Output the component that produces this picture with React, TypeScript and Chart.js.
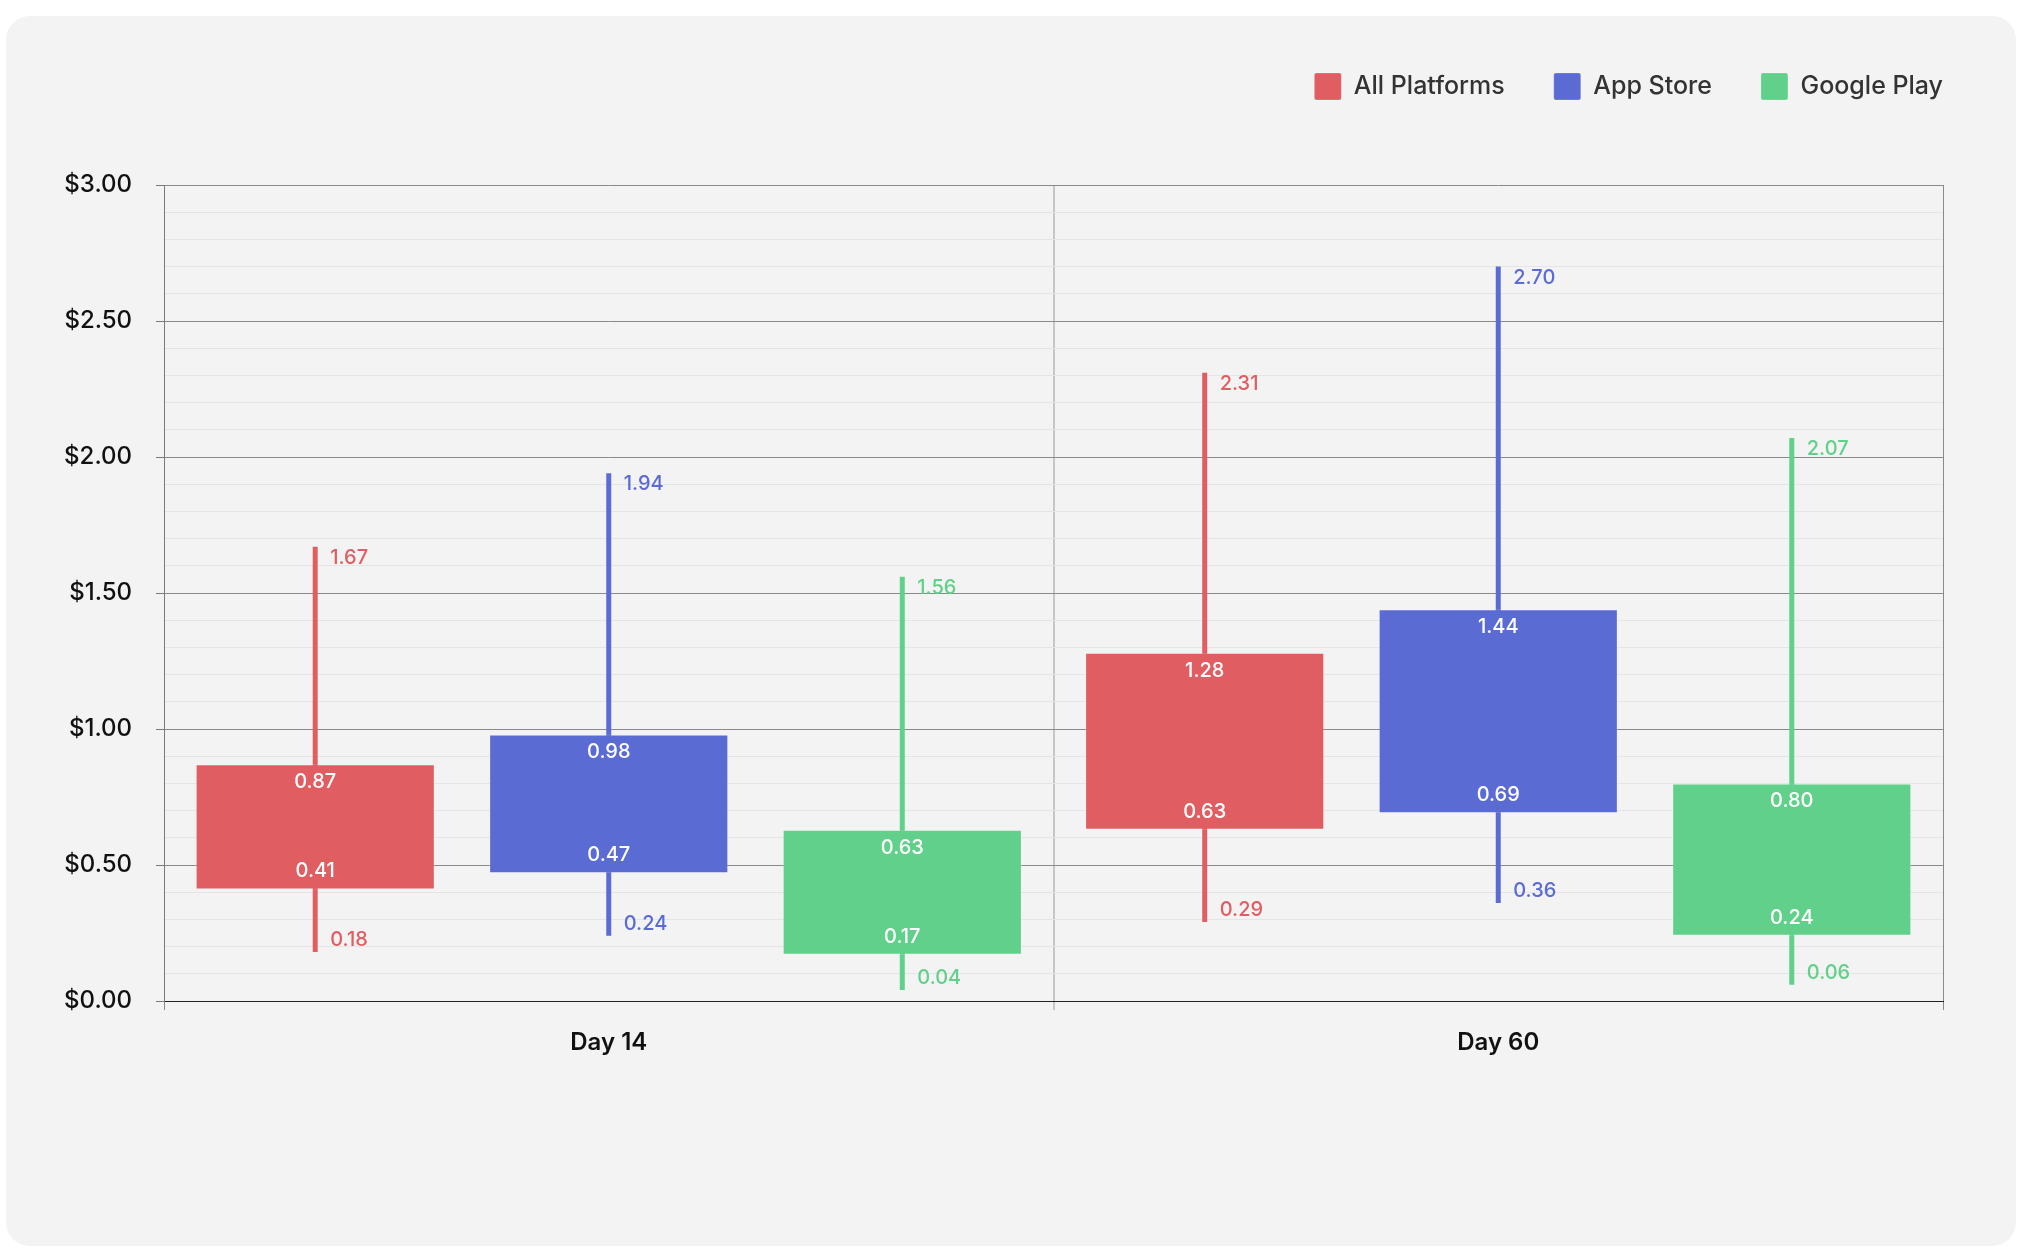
import { useEffect, useRef } from "react"
import { Chart, registerables } from "chart.js"

Chart.register(...registerables)

const categories = ["Day 14", "Day 60"]
const seriesNames = ["All Platforms", "App Store", "Google Play"]
const seriesColors = ["#E05E61", "#5B6BD4", "#61D08A"]

// box = [lower, upper], whisker = [min, max], one pair per category
const allPlatformsBox = [[0.41, 0.87], [0.63, 1.28]]
const allPlatformsWhisker = [[0.18, 1.67], [0.29, 2.31]]
const appStoreBox = [[0.47, 0.98], [0.69, 1.44]]
const appStoreWhisker = [[0.24, 1.94], [0.36, 2.7]]
const googlePlayBox = [[0.17, 0.63], [0.24, 0.8]]
const googlePlayWhisker = [[0.04, 1.56], [0.06, 2.07]]

const yTickLabels = ["$0.00", "$0.50", "$1.00", "$1.50", "$2.00", "$2.50", "$3.00"]

const boxes = [allPlatformsBox, appStoreBox, googlePlayBox]
const whiskers = [allPlatformsWhisker, appStoreWhisker, googlePlayWhisker]

const FONT = "Inter, 'Noto Sans', sans-serif"

const isMajor = (v: number) => Math.abs(v * 2 - Math.round(v * 2)) < 1e-6

// push the plot area down below the legend
const legendSpacer = {
  id: "legendSpacer",
  beforeInit(chart: any) {
    const fit = chart.legend.fit
    chart.legend.fit = function () {
      fit.call(this)
      this.height += 75
    }
  },
}

// value labels on boxes and whisker ends
const valueLabels = {
  id: "valueLabels",
  afterDatasetsDraw(chart: any) {
    const { ctx } = chart
    const y = chart.scales.y
    ctx.save()
    ctx.font = `500 20px ${FONT}`
    ctx.textBaseline = "middle"
    chart.data.datasets.forEach((ds: any, di: number) => {
      const meta = chart.getDatasetMeta(di)
      meta.data.forEach((el: any, i: number) => {
        const [lo, hi] = ds.data[i]
        const top = y.getPixelForValue(hi)
        const bottom = y.getPixelForValue(lo)
        if (ds.role === "box") {
          ctx.fillStyle = "#ffffff"
          ctx.textAlign = "center"
          ctx.fillText(hi.toFixed(2), el.x, top + 18)
          ctx.fillText(lo.toFixed(2), el.x, bottom - 18)
        } else {
          ctx.fillStyle = ds.backgroundColor
          ctx.textAlign = "left"
          ctx.fillText(hi.toFixed(2), el.x + 15, top + 11)
          ctx.fillText(lo.toFixed(2), el.x + 15, bottom - 12)
        }
      })
    })
    ctx.restore()
  },
}

export default function App() {
  const chartRef = useRef<HTMLCanvasElement>(null)
  const chartInstance = useRef<Chart | null>(null)

  useEffect(() => {
    if (!chartRef.current) return
    if (chartInstance.current) chartInstance.current.destroy()

    const boxSets = seriesNames.map((name, s) => ({
      label: name,
      role: "box",
      stack: "s" + s,
      data: boxes[s],
      backgroundColor: seriesColors[s],
      borderColor: "rgba(255,255,255,0.22)",
      borderWidth: 1,
      borderSkipped: false,
      categoryPercentage: 0.99,
      barPercentage: 0.815,
      order: 1,
    }))
    const whiskerSets = seriesNames.map((name, s) => ({
      label: name + " range",
      role: "whisker",
      stack: "s" + s,
      data: whiskers[s],
      backgroundColor: seriesColors[s],
      borderWidth: 0,
      categoryPercentage: 0.99,
      barPercentage: 0.815,
      maxBarThickness: 5,
      order: 2,
    }))

    Chart.defaults.font.family = FONT

    chartInstance.current = new Chart(chartRef.current, {
      type: "bar",
      data: {
        labels: categories,
        datasets: [...boxSets, ...whiskerSets] as any,
      },
      plugins: [legendSpacer, valueLabels],
      options: {
        responsive: true,
        maintainAspectRatio: false,
        animation: false,
        events: [],
        layout: { padding: { top: 8, left: 58, right: 24, bottom: 189 } },
        plugins: {
          tooltip: { enabled: false },
          legend: {
            position: "top",
            align: "end",
            labels: {
              boxWidth: 27,
              boxHeight: 27,
              padding: 49,
              color: "#333333",
              useBorderRadius: true,
              borderRadius: 2,
              font: { size: 25, weight: 500 },
              filter: (item: any) => item.datasetIndex < seriesNames.length,
            },
          },
        },
        scales: {
          x: {
            offset: true,
            grid: {
              offset: true,
              color: (c: any) => (c.index === 1 ? "#c6c6c6" : "#8a8a8a"),
              lineWidth: (c: any) => (c.index === 1 ? 2 : 1),
              tickLength: 9,
            },
            border: { color: "#222222", width: 1 },
            ticks: { color: "#111111", font: { size: 24, weight: 600 }, padding: 18 },
            afterFit: (s: any) => {
              s.height = 56
            },
          },
          y: {
            min: 0,
            max: 3,
            stacked: false,
            grid: {
              color: (c: any) => (c.tick && isMajor(c.tick.value) ? "#8a8a8a" : "#e5e5e5"),
              tickColor: (c: any) => (c.tick && isMajor(c.tick.value) ? "#7a7a7a" : "rgba(0,0,0,0)"),
              tickLength: 8,
            },
            border: { color: "#7a7a7a", width: 1 },
            ticks: {
              stepSize: 0.1,
              autoSkip: false,
              padding: 24,
              color: "#111111",
              font: { size: 24, weight: 500 },
              callback: (v: any) => (isMajor(Number(v)) ? yTickLabels[Math.round(Number(v) * 2)] : ""),
            },
            afterFit: (s: any) => {
              s.width = 100
            },
          },
          yRight: {
            position: "right",
            display: true,
            stacked: false,
            grid: { display: false },
            border: { display: false },
            ticks: { display: false },
            afterFit: (s: any) => {
              s.width = 49
            },
          },
        },
      } as any,
    })

    return () => {
      if (chartInstance.current) {
        chartInstance.current.destroy()
        chartInstance.current = null
      }
    }
  }, [])

  return (
    <div style={{ position: "absolute", left: 0, top: 0, width: 2022, height: 1258, background: "#ffffff" }}>
      <div
        style={{
          position: "absolute",
          left: 6,
          top: 16,
          width: 2010,
          height: 1230,
          borderRadius: 24,
          background: "#f3f3f3",
        }}
      >
        <canvas ref={chartRef}></canvas>
      </div>
    </div>
  )
}
